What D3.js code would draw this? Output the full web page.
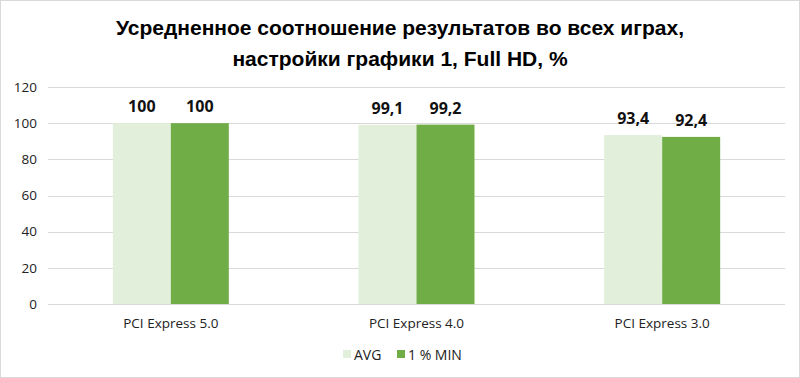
<!DOCTYPE html>
<html><head><meta charset="utf-8">
<script src="https://cdn.jsdelivr.net/npm/d3@7"></script>
<style>body{margin:0;background:#fff}svg{display:block}</style>
</head><body>
<script>
const categories = ["PCI Express 5.0", "PCI Express 4.0", "PCI Express 3.0"];
const seriesNames = ["AVG", "1 % MIN"];
const avgValues = [100, 99.1, 93.4];
const minValues = [100, 99.2, 92.4];
const yTicks = [0, 20, 40, 60, 80, 100, 120];
const colors = ["#e2efda", "#70ad47"];
const title1 = "Усредненное соотношение  результатов во всех играх,";
const title2 = "настройки графики 1, Full HD, %";

(function(){
const W = 800, H = 378;
const svg = d3.select("body").append("svg").attr("width", W).attr("height", H);
svg.append("rect").attr("x",0.5).attr("y",0.5).attr("width",W-1).attr("height",H-1)
  .attr("fill","#fff").attr("stroke","#d9d9d9");

const pLeft = 48, pRight = 785, pTop = 87, pBottom = 304;
const x = d3.scaleBand().domain(categories).range([pLeft, pRight]);
const y = d3.scaleLinear().domain([0, 120]).range([pBottom, pTop]);
const barW = 58;
const sans = "'Open Sans', 'DejaVu Sans', sans-serif";

const font = "'Liberation Sans Narrow', 'Arial Narrow', sans-serif";
svg.append("text").attr("x", 400).attr("y", 35).attr("text-anchor","middle")
  .attr("font-family", font).attr("font-weight","bold").attr("font-size", 21).text(title1);
svg.append("text").attr("x", 400).attr("y", 66).attr("text-anchor","middle")
  .attr("font-family", font).attr("font-weight","bold").attr("font-size", 21).text(title2);

svg.append("g").selectAll("line").data(yTicks).join("line")
  .attr("x1", pLeft).attr("x2", pRight)
  .attr("y1", d => Math.round(y(d)) + 0.5).attr("y2", d => Math.round(y(d)) + 0.5)
  .attr("stroke", "#d9d9d9").attr("stroke-width", 1);

const yAxis = d3.axisLeft(y).tickValues(yTicks).tickSize(0).tickPadding(0);
const ya = svg.append("g").attr("transform", `translate(37,0)`).call(yAxis);
ya.select(".domain").remove();
ya.selectAll("text").attr("font-family", sans).attr("font-size", 13.5).attr("fill","#222");

const series = [avgValues, minValues];
series.forEach((vals, si) => {
  svg.append("g").selectAll("rect").data(vals).join("rect")
    .attr("x", (d,i) => x(categories[i]) + x.bandwidth()/2 - barW + si*barW)
    .attr("y", d => y(d)).attr("width", barW).attr("height", d => y(0) - y(d))
    .attr("fill", colors[si]);
  svg.append("g").selectAll("text").data(vals).join("text")
    .attr("x", (d,i) => x(categories[i]) + x.bandwidth()/2 - barW/2 + si*barW)
    .attr("y", d => y(d) - 11).attr("text-anchor","middle")
    .attr("font-family", sans).attr("font-weight","bold").attr("font-size", 16)
    .attr("fill","#111")
    .text(d => String(d).replace(".", ","));
});

const xAxis = d3.axisBottom(x).tickSize(0).tickPadding(0);
const xa = svg.append("g").attr("transform", `translate(0,${pBottom + 20})`).call(xAxis);
xa.select(".domain").remove();
xa.selectAll("text").attr("font-family", sans).attr("font-size", 13.5).attr("fill","#222").attr("dy","0.32em");

const lg = svg.append("g").attr("transform","translate(343,355)");
const legendX = [0, 54];
seriesNames.forEach((n, i) => {
  lg.append("rect").attr("x", legendX[i]).attr("y", -5).attr("width", 8).attr("height", 8).attr("fill", colors[i]);
  lg.append("text").attr("x", legendX[i] + 11).attr("y", 0).attr("dy","0.35em")
    .attr("font-family", sans).attr("font-size", 14).attr("fill","#222").text(n);
});
})();
</script>
</body></html>
